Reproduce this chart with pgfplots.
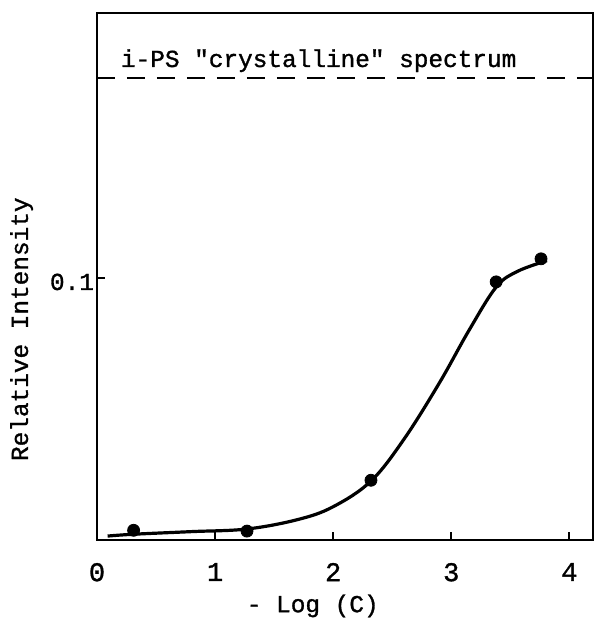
\documentclass[border=0pt]{standalone}
\usepackage{fontspec}
\setmainfont{Liberation Mono}[Ligatures=TeXOff, FakeBold=1.2]
\usepackage{pgfplots}
\pgfplotsset{compat=1.18}

\begin{document}
\begin{tikzpicture}
\useasboundingbox (-48.5pt,-44.5pt) rectangle (249pt,270pt);
\begin{axis}[
    scale only axis,
    width=248pt,
    height=263.5pt,
    xmin=0, xmax=4.2,
    ymin=0, ymax=0.2011,
    axis line style={line width=1.2pt},
    xtick={0,1,2,3,4},
    xticklabels={0,1,2,3,4},
    ytick={0.1},
    yticklabels={0.1},
    tick align=inside,
    major tick length=4pt,
    tick style={line width=1pt, black},
    xtick pos=bottom,
    ytick pos=left,
    /pgf/number format/assume math mode=true,
    font=\fontsize{12.2}{15}\selectfont,
    xticklabel style={yshift=-8pt, font=\fontsize{13.5}{15}\selectfont},
    yticklabel style={yshift=-2pt, xshift=2pt},
    xlabel={- Log (C)},
    ylabel={Relative Intensity},
    every axis x label/.style={at={(axis description cs:0.435,-0.125)}, anchor=center},
    every axis y label/.style={at={(axis description cs:-0.152,0.40)}, anchor=center, rotate=90},
    clip=false,
]
% dashed reference level
\addplot[black, line width=1pt, dash pattern=on 9pt off 6pt] coordinates {(0,0.1763) (4.2,0.1763)};
\node[anchor=base west, inner sep=0pt] at (axis cs:0.2,0.1805) {i-PS "crystalline" spectrum};

% hand drawn curve
\addplot[black, line width=1.6pt, smooth, tension=0.6] coordinates {
    (0.09,0.0015) (0.31,0.0022) (0.8,0.0032) (1.27,0.0042) (1.7,0.0078)
    (2.0,0.0127) (2.32,0.0225) (2.6,0.0385) (2.9,0.0600)
    (3.15,0.0800) (3.38,0.0965) (3.56,0.1025) (3.81,0.1066)
};
% measured points
\addplot[only marks, mark=*, mark size=3pt, black] coordinates {
    (0.31,0.0037) (1.27,0.0034) (2.32,0.0228) (3.38,0.0985) (3.76,0.1073)
};
\end{axis}
\end{tikzpicture}
\end{document}
